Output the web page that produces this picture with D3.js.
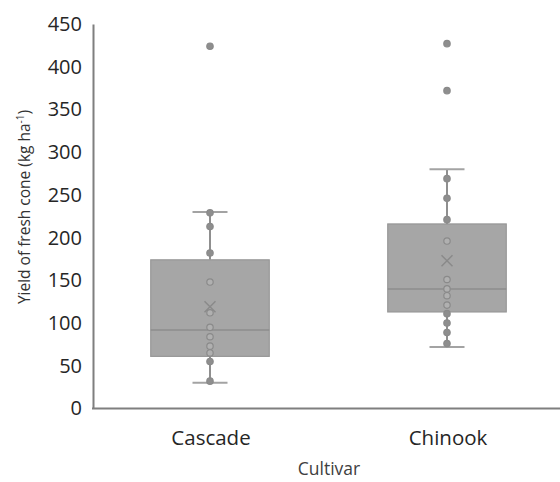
<!DOCTYPE html>
<html>
<head>
<meta charset="utf-8">
<script src="https://cdn.jsdelivr.net/npm/d3@7"></script>
<style>
  body { margin: 0; background: #fff; }
  text { font-family: "Open Sans", sans-serif; fill: #262626; }
</style>
</head>
<body>
<div id="chart"></div>
<script>
// Data
const cultivars = ["Cascade", "Chinook"];
const lowWhisker = [30, 72];
const q1 = [61, 113];
const median = [92, 140];
const q3 = [174, 216];
const highWhisker = [230, 280];
const means = [119, 173];
const cascadePoints = [424, 229, 213, 182, 148, 112, 95, 84, 73, 65, 55, 32];
const chinookPoints = [427, 372, 269, 246, 221, 196, 151, 140, 132, 121, 111, 100, 89, 76];
const yTicks = [0, 50, 100, 150, 200, 250, 300, 350, 400, 450];

const points = [cascadePoints, chinookPoints];

const width = 560, height = 482;
const svg = d3.select("#chart").append("svg")
  .attr("width", width)
  .attr("height", height);

const x = d3.scalePoint()
  .domain(cultivars)
  .range([91.5, 565.5])
  .padding(0.5);

const y = d3.scaleLinear()
  .domain([0, 450])
  .range([408.5, 24]);

const boxW = x.step() * 0.5;
const capW = 35;

// Y axis
const yAxis = svg.append("g")
  .attr("transform", "translate(93,0)")
  .call(d3.axisLeft(y).tickValues(yTicks).tickSize(0).tickPadding(11));
yAxis.select(".domain").attr("stroke", "#7f7f7f").attr("stroke-width", 2);
yAxis.selectAll(".tick text")
  .style("font-size", "20px")
  .style("fill", "#262626");

// X axis line
svg.append("line")
  .attr("x1", 92).attr("x2", width)
  .attr("y1", y(0)).attr("y2", y(0))
  .attr("stroke", "#7f7f7f").attr("stroke-width", 2);

// Category labels
svg.selectAll(".cat")
  .data(cultivars)
  .join("text")
  .attr("class", "cat")
  .attr("x", d => x(d) + 1)
  .attr("y", 445)
  .attr("text-anchor", "middle")
  .style("font-size", "20.5px")
  .text(d => d);

// Axis titles
svg.append("text")
  .attr("x", 329)
  .attr("y", 475)
  .attr("text-anchor", "middle")
  .style("font-size", "17.5px")
  .style("fill", "#404040")
  .text("Cultivar");

const yTitle = svg.append("text")
  .attr("transform", "translate(30,207) rotate(-90)")
  .attr("text-anchor", "middle")
  .style("font-size", "15.5px")
  .style("fill", "#333");
yTitle.append("tspan").text("Yield of fresh cone (kg ha");
yTitle.append("tspan").attr("dy", -6).style("font-size", "10px").text("-1");
yTitle.append("tspan").attr("dy", 6).text(")");

// Boxes
const groups = svg.selectAll(".box")
  .data(cultivars)
  .join("g")
  .attr("class", "box");

// whiskers
groups.append("line")
  .attr("x1", d => x(d)).attr("x2", d => x(d))
  .attr("y1", (d, i) => y(highWhisker[i]))
  .attr("y2", (d, i) => y(q3[i]))
  .attr("stroke", "#8f8f8f").attr("stroke-width", 2);
groups.append("line")
  .attr("x1", d => x(d)).attr("x2", d => x(d))
  .attr("y1", (d, i) => y(q1[i]))
  .attr("y2", (d, i) => y(lowWhisker[i]))
  .attr("stroke", "#8f8f8f").attr("stroke-width", 2);
// caps
[highWhisker, lowWhisker].forEach(arr => {
  groups.append("line")
    .attr("x1", d => x(d) - capW / 2).attr("x2", d => x(d) + capW / 2)
    .attr("y1", (d, i) => y(arr[i]))
    .attr("y2", (d, i) => y(arr[i]))
    .attr("stroke", "#a3a3a3").attr("stroke-width", 2);
});

// box rect
groups.append("rect")
  .attr("x", d => x(d) - boxW / 2)
  .attr("width", boxW)
  .attr("y", (d, i) => y(q3[i]))
  .attr("height", (d, i) => y(q1[i]) - y(q3[i]))
  .attr("fill", "#a6a6a6")
  .attr("stroke", "#979797")
  .attr("stroke-width", 1.2);

// median
groups.append("line")
  .attr("x1", d => x(d) - boxW / 2).attr("x2", d => x(d) + boxW / 2)
  .attr("y1", (d, i) => y(median[i]))
  .attr("y2", (d, i) => y(median[i]))
  .attr("stroke", "#8c8c8c").attr("stroke-width", 1.5);

// data points
groups.each(function(d, i) {
  d3.select(this).selectAll("circle")
    .data(points[i])
    .join("circle")
    .attr("cx", x(d))
    .attr("cy", v => y(v))
    .attr("r", 3.2)
    .attr("fill", v => (v > q1[i] && v < q3[i]) ? "#b0b0b0" : "#8e8e8e")
    .attr("stroke", "#8a8a8a")
    .attr("stroke-width", 1.2);
});

// mean markers
groups.append("path")
  .attr("d", (d, i) => {
    const cx = x(d), cy = y(means[i]), s = 5.5;
    return `M${cx - s},${cy - s}L${cx + s},${cy + s}M${cx - s},${cy + s}L${cx + s},${cy - s}`;
  })
  .attr("stroke", "#8a8a8a")
  .attr("stroke-width", 1.5)
  .attr("fill", "none");
</script>
</body>
</html>
